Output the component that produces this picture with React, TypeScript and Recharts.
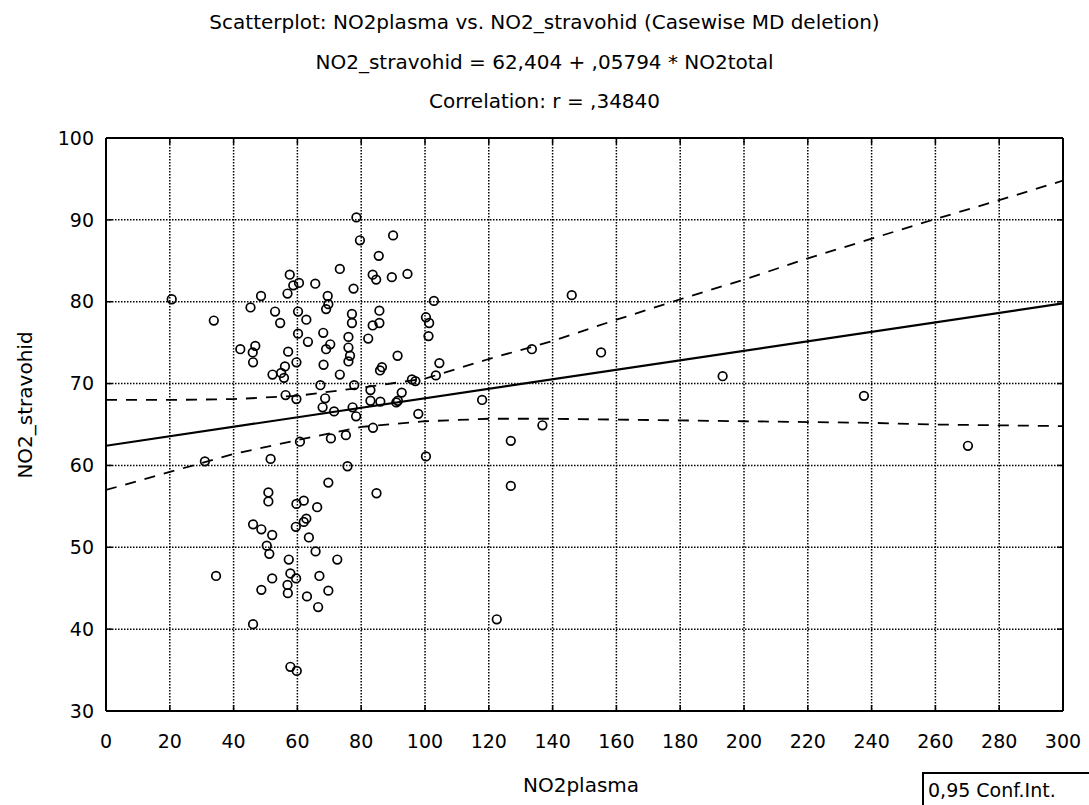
import React from 'react';
import {
    ScatterChart,
    Scatter,
    XAxis,
    YAxis,
    CartesianGrid,
} from 'recharts';

// NO2plasma (x) vs NO2_stravohid (y)
const plasma = [
    78.5, 79.6, 90.0, 85.5, 73.3, 83.6, 84.7, 89.6, 94.5, 57.6,
    58.7, 60.5, 65.6, 56.9, 69.5, 77.6, 69.7, 69.0, 48.6, 45.3,
    20.6, 33.8, 53.0, 54.6, 60.2, 62.8, 77.1, 77.1, 85.7, 85.7,
    83.6, 60.2, 63.3, 68.1, 70.3, 69.0, 76.0, 76.0, 76.5, 76.0,
    82.2, 91.4, 86.5, 85.9, 42.1, 46.8, 46.0, 46.1, 57.1, 59.7,
    56.1, 54.9, 52.2, 55.8, 68.2, 73.3, 67.2, 77.8, 82.9, 56.3,
    59.7, 68.7, 67.9, 71.5, 77.3, 78.4, 82.9, 86.0, 83.7, 91.0,
    91.5, 60.8, 70.5, 75.2, 31.0, 51.6, 75.7, 69.7, 50.9, 50.9,
    59.7, 62.0, 66.2, 84.8, 46.1, 48.7, 52.1, 50.4, 51.2, 59.5,
    62.0, 62.8, 63.6, 65.7, 57.3, 72.5, 34.5, 52.1, 57.8, 59.6,
    56.9, 57.0, 48.7, 66.9, 69.7, 63.0, 66.5, 46.1, 57.8, 59.8,
    102.8, 146.0, 100.3, 101.3, 101.1, 104.5, 103.4, 95.9, 97.0, 133.5,
    155.2, 193.3, 92.7, 117.9, 97.9, 136.8, 126.9, 100.3, 126.9, 122.5,
    237.6, 270.2,
];
const stravohid = [
    90.3, 87.5, 88.1, 85.6, 84.0, 83.3, 82.7, 83.0, 83.4, 83.3,
    82.0, 82.3, 82.2, 81.0, 80.7, 81.6, 79.7, 79.1, 80.7, 79.3,
    80.3, 77.7, 78.8, 77.4, 78.8, 77.8, 78.5, 77.4, 78.9, 77.4,
    77.1, 76.1, 75.1, 76.2, 74.8, 74.2, 75.7, 74.4, 73.4, 72.7,
    75.5, 73.4, 72.0, 71.6, 74.2, 74.6, 73.8, 72.6, 73.9, 72.6,
    72.1, 71.3, 71.1, 70.7, 72.3, 71.1, 69.8, 69.8, 69.2, 68.6,
    68.1, 68.2, 67.1, 66.6, 67.1, 66.0, 67.9, 67.8, 64.6, 67.7,
    67.9, 62.9, 63.3, 63.7, 60.5, 60.8, 59.9, 57.9, 56.7, 55.6,
    55.3, 55.7, 54.9, 56.6, 52.8, 52.2, 51.5, 50.2, 49.2, 52.5,
    53.1, 53.5, 51.2, 49.5, 48.5, 48.5, 46.5, 46.2, 46.8, 46.2,
    45.4, 44.4, 44.8, 46.5, 44.7, 44.0, 42.7, 40.6, 35.4, 34.9,
    80.1, 80.8, 78.1, 77.4, 75.8, 72.5, 71.0, 70.5, 70.3, 74.2,
    73.8, 70.9, 68.9, 68.0, 66.3, 64.9, 63.0, 61.1, 57.5, 41.2,
    68.5, 62.4,
];

// fitted line and 0.95 confidence band, read at the x gridlines
const bandX = [0, 20, 40, 60, 80, 100, 120, 140, 160, 180, 200, 220, 240, 260, 280, 300];
const bandUpper = [68.0, 68.0, 68.1, 68.5, 69.5, 70.6, 73.0, 75.2, 77.8, 80.3, 82.7, 85.3, 87.7, 90.1, 92.4, 94.8];
const bandLower = [57.0, 59.2, 61.4, 63.1, 64.7, 65.4, 65.7, 65.7, 65.6, 65.5, 65.4, 65.3, 65.2, 65.0, 64.9, 64.8];
const fitX = [0, 300];
const fitY = [62.4, 79.8];

const xTicks = [0, 20, 40, 60, 80, 100, 120, 140, 160, 180, 200, 220, 240, 260, 280, 300];
const yTicks = [30, 40, 50, 60, 70, 80, 90, 100];

const points = plasma.map((x, i) => ({ x, y: stravohid[i] }));
const upper = bandX.map((x, i) => ({ x, y: bandUpper[i] }));
const lower = bandX.map((x, i) => ({ x, y: bandLower[i] }));
const fit = fitX.map((x, i) => ({ x, y: fitY[i] }));

const FONT = '"DejaVu Sans", Verdana, sans-serif';

function Ring(props: any) {
    const { cx, cy } = props;
    return <circle cx={cx} cy={cy} r={4.3} fill="none" stroke="#000" strokeWidth={1.7} />;
}

function NoMark() {
    return <g />;
}

const tickStyle = { fill: '#000', fontSize: 19, fontFamily: FONT };
const blank = () => '';

export default function App() {
    return (
        <div style={{ position: 'absolute', left: 0, top: 0, width: 1089, height: 805, background: '#fff', fontFamily: FONT, color: '#000' }}>
            <ScatterChart
                width={1089}
                height={805}
                margin={{ top: 137, right: 25, bottom: 64, left: 46 }}
            >
                <CartesianGrid stroke="#000" strokeDasharray="1.5 1.5" strokeWidth={1.5} />
                <XAxis
                    type="number"
                    dataKey="x"
                    domain={[0, 300]}
                    ticks={xTicks}
                    height={30}
                    axisLine={{ stroke: '#000', strokeWidth: 2 }}
                    tickLine={{ stroke: '#000', strokeWidth: 1.5 }}
                    tickSize={-6}
                    tickMargin={30}
                    tick={tickStyle}
                    allowDataOverflow
                />
                <XAxis
                    xAxisId="top"
                    orientation="top"
                    type="number"
                    dataKey="x"
                    domain={[0, 300]}
                    ticks={xTicks}
                    height={1}
                    axisLine={{ stroke: '#000', strokeWidth: 2 }}
                    tickLine={{ stroke: '#000', strokeWidth: 1.5 }}
                    tickSize={-6}
                    tickFormatter={blank}
                    allowDataOverflow
                />
                <YAxis
                    type="number"
                    dataKey="y"
                    domain={[30, 100]}
                    ticks={yTicks}
                    width={60}
                    axisLine={{ stroke: '#000', strokeWidth: 2 }}
                    tickLine={{ stroke: '#000', strokeWidth: 1.5 }}
                    tickSize={-6}
                    tickMargin={18}
                    tick={tickStyle}
                    allowDataOverflow
                />
                <YAxis
                    yAxisId="right"
                    orientation="right"
                    type="number"
                    dataKey="y"
                    domain={[30, 100]}
                    ticks={yTicks}
                    width={1}
                    axisLine={{ stroke: '#000', strokeWidth: 2 }}
                    tickLine={{ stroke: '#000', strokeWidth: 1.5 }}
                    tickSize={-6}
                    tickFormatter={blank}
                    allowDataOverflow
                />
                <Scatter
                    data={upper}
                    shape={NoMark}
                    line={{ stroke: '#000', strokeWidth: 1.8, strokeDasharray: '11 9' }}
                    isAnimationActive={false}
                />
                <Scatter
                    data={lower}
                    shape={NoMark}
                    line={{ stroke: '#000', strokeWidth: 1.8, strokeDasharray: '11 9' }}
                    isAnimationActive={false}
                />
                <Scatter
                    data={fit}
                    shape={NoMark}
                    line={{ stroke: '#000', strokeWidth: 2.2 }}
                    isAnimationActive={false}
                />
                <Scatter data={points} shape={Ring} isAnimationActive={false} />
            </ScatterChart>

            {/* titles */}
            <div style={{ position: 'absolute', left: 0, width: 1089, top: 10, textAlign: 'center', fontSize: 20, lineHeight: '24px' }}>
                Scatterplot: NO2plasma vs. NO2_stravohid (Casewise MD deletion)
            </div>
            <div style={{ position: 'absolute', left: 0, width: 1089, top: 50, textAlign: 'center', fontSize: 20, lineHeight: '24px' }}>
                NO2_stravohid = 62,404 + ,05794 * NO2total
            </div>
            <div style={{ position: 'absolute', left: 0, width: 1089, top: 89, textAlign: 'center', fontSize: 20, lineHeight: '24px' }}>
                Correlation: r = ,34840
            </div>

            {/* axis titles */}
            <div style={{ position: 'absolute', left: 481, width: 200, top: 773, textAlign: 'center', fontSize: 20, lineHeight: '24px' }}>
                NO2plasma
            </div>
            <div
                style={{
                    position: 'absolute',
                    left: 25 - 100,
                    top: 405 - 12,
                    width: 200,
                    textAlign: 'center',
                    fontSize: 20,
                    lineHeight: '24px',
                    transform: 'rotate(-90deg)',
                }}
            >
                NO2_stravohid
            </div>

            {/* legend box */}
            <div
                style={{
                    position: 'absolute',
                    left: 922,
                    top: 772,
                    width: 180,
                    height: 40,
                    border: '2px solid #000',
                    boxSizing: 'border-box',
                    paddingLeft: 4,
                    paddingTop: 4,
                    fontSize: 19,
                    lineHeight: '24px',
                    whiteSpace: 'nowrap',
                }}
            >
                0,95 Conf.Int.
            </div>
        </div>
    );
}
